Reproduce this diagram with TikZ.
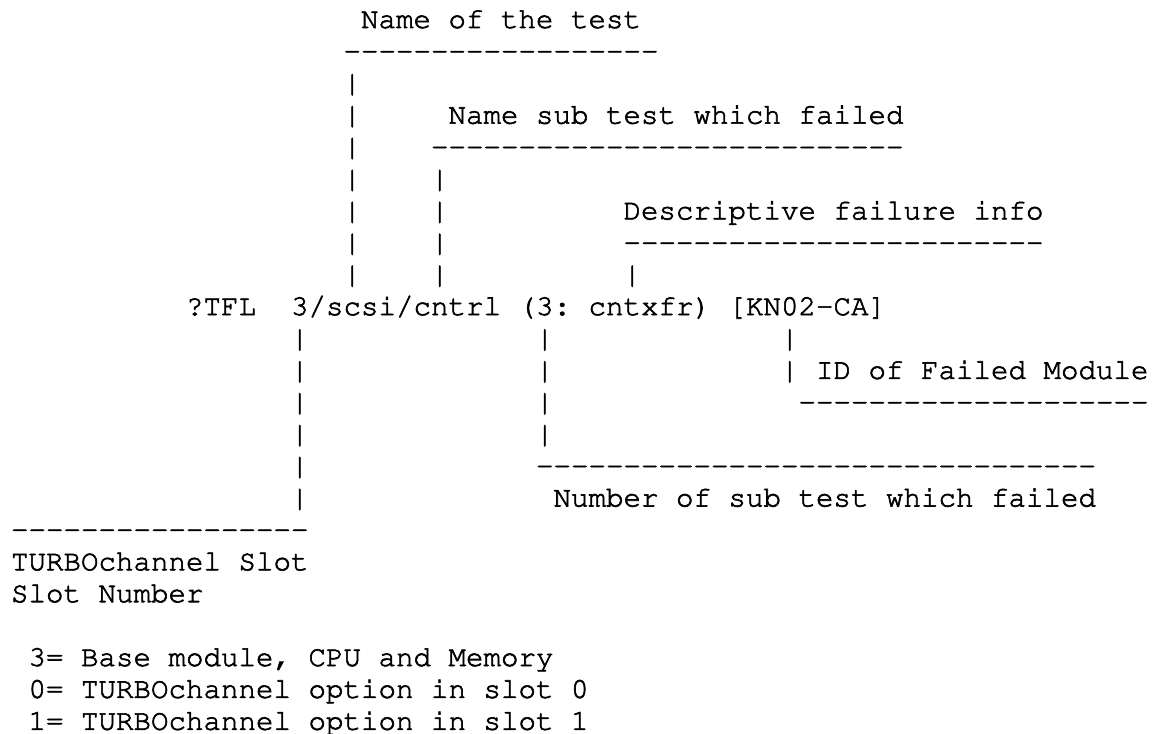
\documentclass[tikz,border=0pt]{standalone}
\usepackage[T1]{fontenc}
\newcommand\cour{\fontencoding{T1}\fontfamily{pcr}\fontseries{m}\fontshape{n}\fontsize{21.875pt}{23.93pt}\selectfont\frenchspacing}
\newcommand\dsh[1]{\foreach \k in {1,...,#1}{-}}
\tikzset{txt/.style={anchor=base west,inner sep=0pt,outer sep=0pt,font=\cour}}
\begin{document}
\begin{tikzpicture}[x=0.75pt,y=-0.75pt]
\useasboundingbox (0,0) rectangle (1164,734);
\special{pdf:literal direct 2 Tr 0.45 w}
% labels and rules
\node[txt] (t0)  at ({11+17.5*20},{28+31.9*0})  {Name of the test};
\node[txt] (d1)  at ({11+17.5*19},{28+31.9*1})  {\dsh{18}};
\node[txt] (t3)  at ({11+17.5*25},{28+31.9*3})  {Name sub test which failed};
\node[txt] (d4)  at ({11+17.5*24},{28+31.9*4})  {\dsh{27}};
\node[txt] (t6)  at ({11+17.5*35},{28+31.9*6})  {Descriptive failure info};
\node[txt] (d7)  at ({11+17.5*35},{28+31.9*7})  {\dsh{24}};
\node[txt] (main) at ({11+17.5*10},{28+31.9*9}) {?TFL\ \ 3/scsi/cntrl (3: cntxfr) [KN02-CA]};
\node[txt] (t11) at ({11+17.5*46},{28+31.9*11}) {ID of Failed Module};
\node[txt] (d12) at ({11+17.5*45},{28+31.9*12}) {\dsh{20}};
\node[txt] (d14) at ({11+17.5*30},{28+31.9*14}) {\dsh{32}};
\node[txt] (t15) at ({11+17.5*31},{28+31.9*15}) {Number of sub test which failed};
\node[txt] (d16) at ({11+17.5*0},{28+31.9*16})  {\dsh{17}};
\node[txt] (t17) at ({11+17.5*0},{28+31.9*17})  {TURBOchannel Slot};
\node[txt] (t18) at ({11+17.5*0},{28+31.9*18})  {Slot Number};
\node[txt] (t20) at ({11+17.5*1},{28+31.9*20})  {3= Base module, CPU and Memory};
\node[txt] (t21) at ({11+17.5*1},{28+31.9*21})  {0= TURBOchannel option in slot 0};
\node[txt] (t22) at ({11+17.5*1},{28+31.9*22})  {1= TURBOchannel option in slot 1};
% vertical bars (col/row)
\foreach \c/\r in {19/2,19/3,19/4,19/5,19/6,19/7,19/8,
                   24/5,24/6,24/7,24/8,
                   35/8,
                   16/10,16/11,16/12,16/13,16/14,16/15,
                   30/10,30/11,30/12,30/13,
                   44/10,44/11}
  \node[txt] (b\c-\r) at ({11+17.5*\c},{28+31.9*\r}) {|};
\end{tikzpicture}
\end{document}
